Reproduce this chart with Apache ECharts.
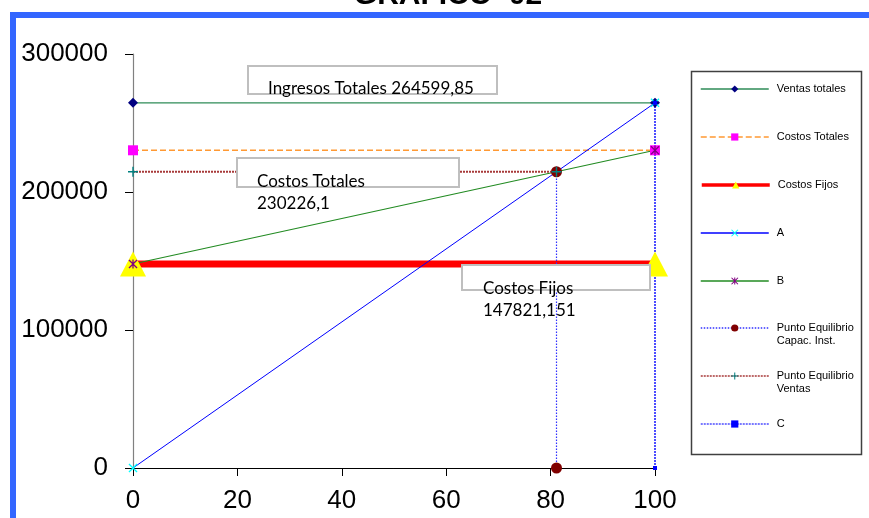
<!DOCTYPE html>
<html>
<head>
<meta charset="utf-8">
<script src="https://cdn.jsdelivr.net/npm/echarts@6/dist/echarts.min.js"></script>
<style>
html,body{margin:0;padding:0;background:#fff;}
#main{width:869px;height:518px;}
</style>
</head>
<body>
<div id="main"></div>
<script>
// ---- data ----
const chartTitle = 'GRAFICO  02';
const seriesNames = ['Ventas totales', 'Costos Totales', 'Costos Fijos', 'A', 'B',
  'Punto Equilibrio Capac. Inst.', 'Punto Equilibrio Ventas', 'C'];
const ventasTotales = [[0, 264599.85], [100, 264599.85]];
const costosTotales = [[0, 230226.1], [100, 230226.1]];
const costosFijos = [[0, 147821.151], [100, 147821.151]];
const serieA = [[0, 0], [100, 264599.85]];
const serieB = [[0, 147821.151], [100, 230226.1]];
const peCapacidad = [[81.13, 0], [81.13, 214675]];
const peVentas = [[0, 214675], [81.13, 214675]];
const serieC = [[100, 0], [100, 264599.85]];
const xMin = 0, xMax = 100, xStep = 20;
const yMin = 0, yMax = 300000, yStep = 100000;
const noteIngresos = ['Ingresos Totales 264599,85'];
const noteCostosTotales = ['Costos Totales', '230226,1'];
const noteCostosFijos = ['Costos Fijos', '147821,151'];

// ---- symbols ----
const symX = 'path://M1,0L5,4L9,0L10,1L6,5L10,9L9,10L5,6L1,10L0,9L4,5L0,1Z';
const symStar = 'path://M1,0L5,4L9,0L10,1L6,5L10,9L9,10L5,6L1,10L0,9L4,5L0,1Z M4.3,0L5.7,0L5.7,10L4.3,10Z';
const symPlus = 'path://M4.3,0L5.7,0L5.7,4.3L10,4.3L10,5.7L5.7,5.7L5.7,10L4.3,10L4.3,5.7L0,5.7L0,4.3L4.3,4.3Z';

const chart = echarts.init(document.getElementById('main'), null, {renderer: 'canvas'});

function mk(name, data, lineStyle, symbol, symbolSize, color) {
  return {
    name: name, type: 'line', data: data, clip: false, animation: false,
    symbol: symbol, symbolSize: symbolSize, showSymbol: true,
    lineStyle: lineStyle, itemStyle: {color: color, opacity: 1},
    emphasis: {disabled: true}
  };
}

const series = [
  mk(seriesNames[0], ventasTotales, {color: '#2E8B57', width: 1.2}, 'diamond', [10, 10], '#000080'),
  mk(seriesNames[1], costosTotales, {color: '#FF9933', width: 1.5, type: [6, 3]}, 'rect', 10, '#FF00FF'),
  mk(seriesNames[2], costosFijos, {color: '#FF0000', width: 7}, 'triangle', [26, 25], '#FFFF00'),
  mk(seriesNames[3], serieA, {color: '#0000FF', width: 1}, symX, 9, '#00FFFF'),
  mk(seriesNames[4], serieB, {color: '#228B22', width: 1.2}, symStar, 9, '#800080'),
  mk(seriesNames[5], peCapacidad, {color: '#3030FF', width: 1.2, type: [1.5, 1.5]}, 'circle', 11, '#800000'),
  mk(seriesNames[6], peVentas, {color: '#A83A3A', width: 2, type: [2, 1]}, symPlus, 10, '#008080'),
  mk(seriesNames[7], serieC, {color: '#4D4DFF', width: 2, type: [2, 1]}, 'rect', 4, '#0000FF')
];

const legendY = [89, 137, 185, 233, 281, 328, 376, 424];
const legendLabels = ['Ventas totales', 'Costos Totales', 'Costos Fijos', 'A', 'B',
  '\u00a0\nPunto Equilibrio\nCapac. Inst.', '\u00a0\nPunto Equilibrio\nVentas', 'C'];
const legendLine = [
  {width: 1.5}, {width: 1.5}, {width: 3.5}, {width: 1.5}, {width: 1.5},
  {width: 1.5}, {width: 1.5}, {width: 1.5}
];
const legends = seriesNames.map(function (n, i) {
  const three = legendLabels[i].indexOf('\n') >= 0;
  return {
    show: true, orient: 'vertical', left: 700, top: legendY[i] - (three ? 19.5 : 6.5),
    padding: 0, itemWidth: 68, itemHeight: 9, itemGap: 0, selectedMode: false,
    formatter: function () { return legendLabels[i]; },
    textStyle: {fontSize: 11, fontFamily: 'Liberation Sans', color: '#000', lineHeight: 13,
      padding: [0, 0, 0, 3]},
    data: [{name: n, lineStyle: legendLine[i]}]
  };
});

const noteFont = '17px Lato';
function noteText(lines, x, y0, lh) {
  return lines.map(function (t, k) {
    return {type: 'text', left: x, top: y0 + k * lh - 7, z: 20,
      style: {text: t, font: noteFont, fill: '#000'}};
  });
}

const graphics = [
  {type: 'rect', z: -10, shape: {x: 13, y: 15, width: 900, height: 600},
    style: {fill: 'none', stroke: '#3366FF', lineWidth: 6}},
  {type: 'text', z: 10, x: 448, y: 11,
    style: {text: chartTitle, font: 'bold 30px "Liberation Sans"', fill: '#000', textAlign: 'center', textVerticalAlign: 'bottom'}},
  {type: 'rect', z: 5, shape: {x: 691.5, y: 71.5, width: 170, height: 383},
    style: {fill: 'none', stroke: '#404040', lineWidth: 1.5}},
  {type: 'rect', z: 15, shape: {x: 248, y: 66, width: 249, height: 28},
    style: {fill: '#fff', stroke: '#BFBFBF', lineWidth: 2}},
  {type: 'rect', z: 15, shape: {x: 237, y: 158, width: 222, height: 29},
    style: {fill: '#fff', stroke: '#BFBFBF', lineWidth: 2}},
  {type: 'rect', z: 15, shape: {x: 462, y: 265, width: 188, height: 25},
    style: {fill: '#fff', stroke: '#BFBFBF', lineWidth: 2}}
].concat(noteText(noteIngresos, 268, 87, 22))
 .concat(noteText(noteCostosTotales, 257, 180, 22))
 .concat(noteText(noteCostosFijos, 483, 287, 22));

chart.setOption({
  backgroundColor: '#fff',
  animation: false,
  grid: {left: 133, right: 214, top: 54, bottom: 50, containLabel: false},
  xAxis: {
    type: 'value', min: xMin, max: xMax, interval: xStep,
    axisLine: {show: true, onZero: true, lineStyle: {color: '#000', width: 1}},
    axisTick: {show: true, length: 8, lineStyle: {color: '#000'}},
    axisLabel: {fontSize: 26, color: '#000', fontFamily: 'Liberation Sans', margin: 20},
    splitLine: {show: false}
  },
  yAxis: {
    type: 'value', min: yMin, max: yMax, interval: yStep,
    axisLine: {show: true, onZero: true, lineStyle: {color: '#808080', width: 1.2}},
    axisTick: {show: true, length: 8, lineStyle: {color: '#000'}},
    axisLabel: {fontSize: 26, color: '#000', fontFamily: 'Liberation Sans', margin: 25,
      formatter: function (v) { return String(v); }},
    splitLine: {show: false}
  },
  legend: legends,
  series: series,
  graphic: {elements: graphics}
});
</script>
</body>
</html>
